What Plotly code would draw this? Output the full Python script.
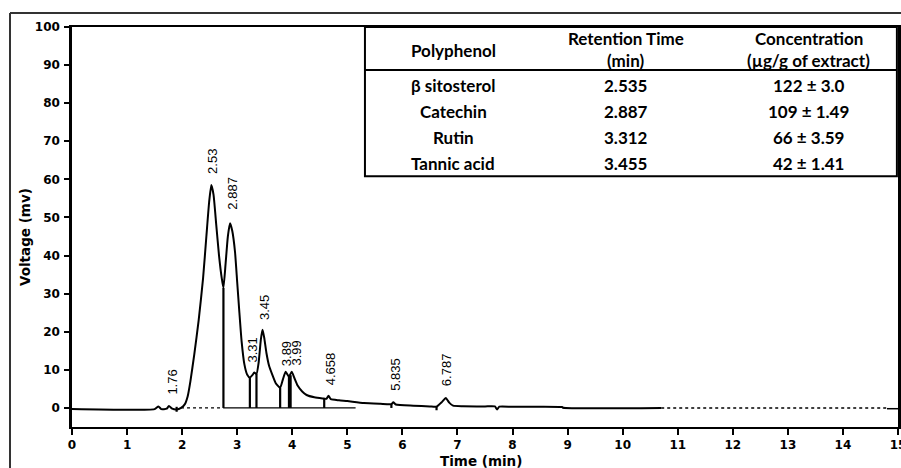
import plotly.graph_objects as go

# ---------------- data ----------------
time_min = [0.0, 1.50, 1.57, 1.62, 1.72, 1.76, 1.82, 1.90, 1.98, 2.05, 2.10, 2.15, 2.22, 2.30,
            2.38, 2.44, 2.49, 2.53, 2.57, 2.62, 2.67, 2.72, 2.75, 2.79, 2.83, 2.87,
            2.91, 2.96, 3.00, 3.04, 3.08, 3.13, 3.18, 3.23, 3.28, 3.31, 3.35, 3.39,
            3.43, 3.46, 3.49, 3.53, 3.58, 3.63, 3.70, 3.78, 3.83, 3.88, 3.94, 3.99,
            4.04, 4.10, 4.18, 4.26, 4.40, 4.55, 4.62, 4.658, 4.70, 4.85, 5.00, 5.30,
            5.60, 5.80, 5.835, 5.88, 6.20, 6.50, 6.62, 6.72, 6.787, 6.85, 6.92, 7.10,
            7.50, 7.68, 7.72, 7.76, 8.00, 8.90, 8.92, 10.70]
voltage_mv = [-0.3, -0.3, 0.4, -0.3, -0.2, 0.5, -0.2, -0.4, 0.0, 1.0, 3.0, 7.0, 14.0, 23.0,
              34.0, 45.0, 54.0, 58.5, 56.0, 48.0, 40.0, 34.0, 31.5, 38.0, 45.0, 48.5,
              46.5, 41.0, 33.0, 25.0, 17.5, 11.5, 8.8, 8.0, 8.7, 9.3, 8.9, 12.0,
              18.0, 20.5, 18.5, 14.5, 11.0, 9.0, 6.5, 5.3, 7.5, 9.5, 8.2, 9.5,
              7.8, 5.8, 4.3, 3.4, 2.8, 2.5, 2.4, 3.2, 2.3, 2.0, 1.8, 1.3,
              1.1, 1.0, 1.5, 0.9, 0.6, 0.4, 0.35, 1.6, 2.6, 1.4, 0.6, 0.45,
              0.4, 0.4, -0.4, 0.35, 0.3, 0.25, 0.05, 0.0]

tail_x = [10.70, 14.80]          # dashed end of trace
tail_y = [0.0, 0.0]
end_x = [14.80, 15.0]
end_y = [-0.2, -0.2]

drop_x = [2.75, 3.23, 3.35, 3.78, 3.94, 3.97, 4.58, 5.80, 6.62, 1.90]
drop_top = [31.5, 8.0, 8.9, 5.3, 8.2, 8.6, 2.5, 1.0, 0.35, 0.3]
drop_bottom = [0.0, 0.0, 0.0, 0.0, 0.0, 0.0, 0.0, 0.0, -0.6, -1.0]

base_solid_x = [2.75, 5.15]
base_solid_y = [0.0, 0.0]
base_dot_x = [1.98, 2.75]
base_dot_y = [0.0, 0.0]

peak_labels = ["1.76", "2.53", "2.887", "3.31", "3.45", "3.89", "3.99", "4.658", "5.835", "6.787"]
label_x = [1.82, 2.54, 2.92, 3.27, 3.50, 3.90, 4.07, 4.70, 5.87, 6.79]
label_y = [2.9, 61.0, 51.6, 11.3, 22.6, 10.5, 10.5, 5.5, 3.9, 5.3]

x_ticks = list(range(0, 16))
y_ticks = list(range(0, 101, 10))

table_header = [["Polyphenol"], ["Retention Time", "(min)"], ["Concentration", "(µg/g of extract)"]]
polyphenols = ["β sitosterol", "Catechin", "Rutin", "Tannic acid"]
retention_times = ["2.535", "2.887", "3.312", "3.455"]
concentrations = ["122 ± 3.0", "109 ± 1.49", "66 ± 3.59", "42 ± 1.41"]

# ---------------- figure ----------------
fig = go.Figure()

fig.add_trace(go.Scatter(x=time_min, y=voltage_mv, mode="lines",
                         line=dict(color="black", width=2, shape="spline", smoothing=0.5),
                         hoverinfo="skip", showlegend=False))
fig.add_trace(go.Scatter(x=tail_x, y=tail_y, mode="lines",
                         line=dict(color="black", width=1.5, dash="dot"),
                         hoverinfo="skip", showlegend=False))
fig.add_trace(go.Scatter(x=end_x, y=end_y, mode="lines",
                         line=dict(color="black", width=1.5),
                         hoverinfo="skip", showlegend=False))
fig.add_trace(go.Scatter(x=base_solid_x, y=base_solid_y, mode="lines",
                         line=dict(color="black", width=1.2),
                         hoverinfo="skip", showlegend=False))
fig.add_trace(go.Scatter(x=base_dot_x, y=base_dot_y, mode="lines",
                         line=dict(color="black", width=1.2, dash="dot"),
                         hoverinfo="skip", showlegend=False))

dx, dy = [], []
for xv, t, b in zip(drop_x, drop_top, drop_bottom):
    dx += [xv, xv, None]
    dy += [t, b, None]
fig.add_trace(go.Scatter(x=dx, y=dy, mode="lines",
                         line=dict(color="black", width=2.2),
                         hoverinfo="skip", showlegend=False))

# peak labels
for t, xv, yv in zip(peak_labels, label_x, label_y):
    fig.add_annotation(x=xv, y=yv, xref="x", yref="y", text=t, showarrow=False,
                       textangle=-90, xanchor="center", yanchor="bottom",
                       font=dict(family="Liberation Sans", size=13, color="black"))

# ---------------- table ----------------
tx0, tx1 = 5.32, 14.98
ty0, ty1 = 60.8, 100.0
ty_sep = 88.7
col_x = [6.92, 10.06, 13.38]
row_y = [84.6, 77.7, 70.9, 64.1]
head_y1, head_y2, head_mid = 96.9, 91.2, 93.9

fig.add_shape(type="rect", xref="x", yref="y", x0=tx0, x1=tx1, y0=ty0, y1=ty1,
              line=dict(color="black", width=2), fillcolor="white", layer="above")
fig.add_shape(type="line", xref="x", yref="y", x0=tx0, x1=tx1, y0=ty_sep, y1=ty_sep,
              line=dict(color="black", width=2), layer="above")

tfont = dict(family="Lato", size=17, color="black")
for cx, lines in zip(col_x, table_header):
    ys = [head_mid] if len(lines) == 1 else [head_y1, head_y2]
    for ln, yy in zip(lines, ys):
        fig.add_annotation(x=cx, y=yy, xref="x", yref="y", text="<b>%s</b>" % ln,
                           showarrow=False, xanchor="center", yanchor="middle", font=tfont)
for cx, col in zip(col_x, [polyphenols, retention_times, concentrations]):
    for val, yy in zip(col, row_y):
        fig.add_annotation(x=cx, y=yy, xref="x", yref="y", text="<b>%s</b>" % val,
                           showarrow=False, xanchor="center", yanchor="middle", font=tfont)

# ---------------- axis titles ----------------
W, H = 901, 468
ml, mr, mt, mb = 72, 3, 27, 41
pw, ph = W - ml - mr, H - mt - mb


def px2paper(px, py):
    return (px - ml) / pw, (H - mb - py) / ph


ax_font = dict(family="DejaVu Sans", size=13.5, color="black")
xt, yt = px2paper(481, 461)
fig.add_annotation(x=xt, y=yt, xref="paper", yref="paper", text="<b>Time (min)</b>",
                   showarrow=False, xanchor="center", yanchor="middle", font=ax_font)
xt, yt = px2paper(25, 237)
fig.add_annotation(x=xt, y=yt, xref="paper", yref="paper", text="<b>Voltage (mv)</b>",
                   showarrow=False, textangle=-90, xanchor="center", yanchor="middle",
                   font=ax_font)

# outer frame (partial, as in the source figure)
fx0, fy0 = px2paper(10, 13)
fx1, _ = px2paper(901, 13)
_, fyb = px2paper(10, 468)
fig.add_shape(type="line", xref="paper", yref="paper", x0=fx0, x1=fx1, y0=fy0, y1=fy0,
              line=dict(color="#333333", width=2))
fig.add_shape(type="line", xref="paper", yref="paper", x0=fx0, x1=fx0, y0=fy0, y1=fyb,
              line=dict(color="#333333", width=2))

tick_font = dict(family="DejaVu Sans", size=12, color="black", weight="bold")

fig.update_layout(
    width=W, height=H,
    margin=dict(l=ml, r=mr, t=mt, b=mb, pad=0, autoexpand=False),
    paper_bgcolor="white", plot_bgcolor="white",
    showlegend=False,
    xaxis=dict(range=[0, 15], tickvals=x_ticks, ticktext=[str(v) for v in x_ticks],
               showline=True, linecolor="black", linewidth=2, mirror=True,
               ticks="outside", ticklen=6, tickwidth=2, tickcolor="black",
               showgrid=False, zeroline=False, tickfont=tick_font, automargin=False,
               ticklabelstandoff=0, ticklabeloverflow="allow", fixedrange=True),
    yaxis=dict(range=[-5, 100], tickvals=y_ticks, ticktext=[str(v) for v in y_ticks],
               showline=True, linecolor="black", linewidth=2.5, mirror=True,
               ticks="outside", ticklen=5, tickwidth=1.5, tickcolor="black",
               showgrid=False, zeroline=False, tickfont=tick_font, automargin=False,
               ticklabelstandoff=2, fixedrange=True),
)

fig.write_html("out.html")
